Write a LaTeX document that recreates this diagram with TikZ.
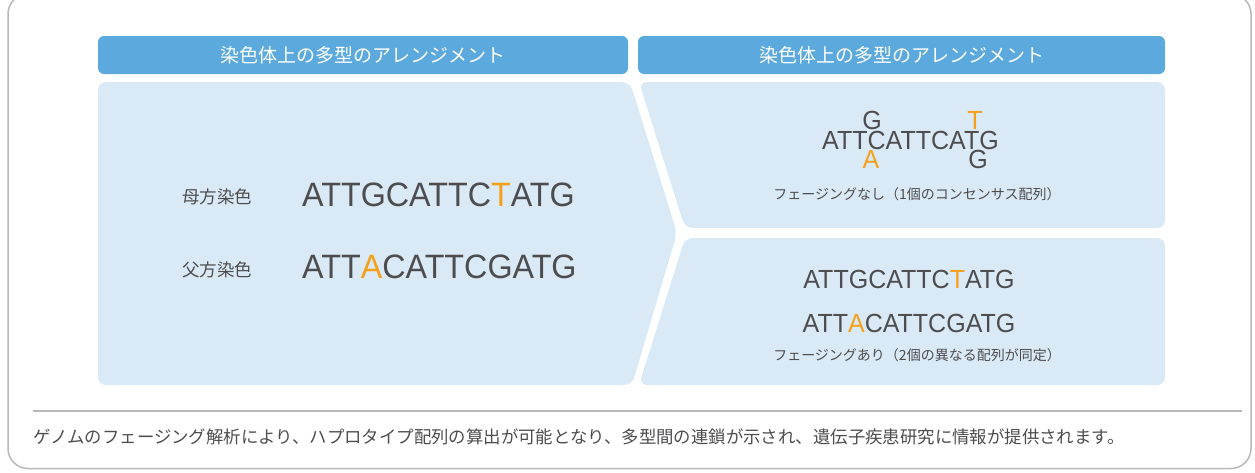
\documentclass[tikz,border=0pt]{standalone}
\usepackage{fontspec}
\setmainfont{Liberation Sans}
\newfontfamily\jp{Noto Sans CJK JP}
\newfontfamily\seqf[FakeStretch=0.955]{Liberation Sans}
\definecolor{hdrblue}{HTML}{5BA9DD}
\definecolor{panelblue}{HTML}{DAE9F6}
\definecolor{txt}{HTML}{4D4D4F}
\definecolor{orng}{HTML}{F6A01A}
\definecolor{framec}{HTML}{B8B8BA}
\newcommand{\og}[1]{{\color{orng}#1}}
\begin{document}
\begin{tikzpicture}[x=1pt,y=-1pt,
  hdr/.style={fill=hdrblue, rounded corners=6pt, text=white, font=\jp\fontsize{19}{21}\selectfont, inner sep=0pt, minimum height=38pt},
  panel/.style={fill=panelblue, rounded corners=8pt},
  seqbig/.style={font=\seqf\fontsize{33.8}{40}\selectfont, text=txt, inner sep=0pt, anchor=base west},
  seqsm/.style={font=\seqf\fontsize{26.2}{30}\selectfont, text=txt, inner sep=0pt},
  lab/.style={font=\jp\fontsize{17.5}{20}\selectfont, text=txt, inner sep=0pt},
  captext/.style={font=\jp\fontsize{14}{16}\selectfont, text=txt, inner sep=0pt},
  notetext/.style={font=\jp\fontsize{17.4}{20}\selectfont, text=txt, inner sep=0pt, anchor=west}]
\useasboundingbox (0,0) rectangle (1255,472);
\clip (0,0) rectangle (1255,472);
% outer frame
\draw[framec, line width=1.5pt, rounded corners=20pt] (8,-6) rectangle (1251,468.5);
% headers
\node[hdr, minimum width=530pt] (hL) at (363,55) {染色体上の多型のアレンジメント};
\node[hdr, minimum width=527pt] (hR) at (901.5,55) {染色体上の多型のアレンジメント};
% panels
\fill[panel] (98,82) -- (630,82) -- (677,233) -- (632,385) -- (98,385) -- cycle;
\fill[panel] (639,82) -- (1165,82) -- (1165,228) -- (685,228) -- cycle;
\fill[panel] (685,238) -- (1165,238) -- (1165,385) -- (639,385) -- cycle;
% left panel content
\node[lab] (mom) at (217,197) {母方染色};
\node[lab] (dad) at (217,270) {父方染色};
\node[seqbig] (s1) at (302,206) {ATTGCATTC\og{T}ATG};
\node[seqbig] (s2) at (302,278) {ATT\og{A}CATTCGATG};
% right top content
\node[seqsm, anchor=base west] (cons) at (822,149) {ATTCATTCATG};
\node[seqsm, anchor=base] (g1) at (872,129) {G};
\node[seqsm, anchor=base] (t1) at (975,129) {\og{T}};
\node[seqsm, anchor=base] (a1) at (871,168) {\og{A}};
\node[seqsm, anchor=base] (g2) at (978,168) {G};
\node[captext] (c1) at (917,194) {フェージングなし（1個のコンセンサス配列）};
% right bottom content
\node[seqsm, anchor=base] (r1) at (909,288) {ATTGCATTC\og{T}ATG};
\node[seqsm, anchor=base] (r2) at (909,332) {ATT\og{A}CATTCGATG};
\node[captext] (c2) at (917,355) {フェージングあり（2個の異なる配列が同定）};
% separator and note
\coordinate (sepL) at (33,411);
\coordinate (sepR) at (1242,411);
\draw[framec, line width=2pt] (sepL) -- (sepR);
\node[notetext] (nt) at (33,437) {ゲノムのフェージング解析により、ハプロタイプ配列の算出が可能となり、多型間の連鎖が示され、遺伝子疾患研究に情報が提供されます。};
\end{tikzpicture}
\end{document}
